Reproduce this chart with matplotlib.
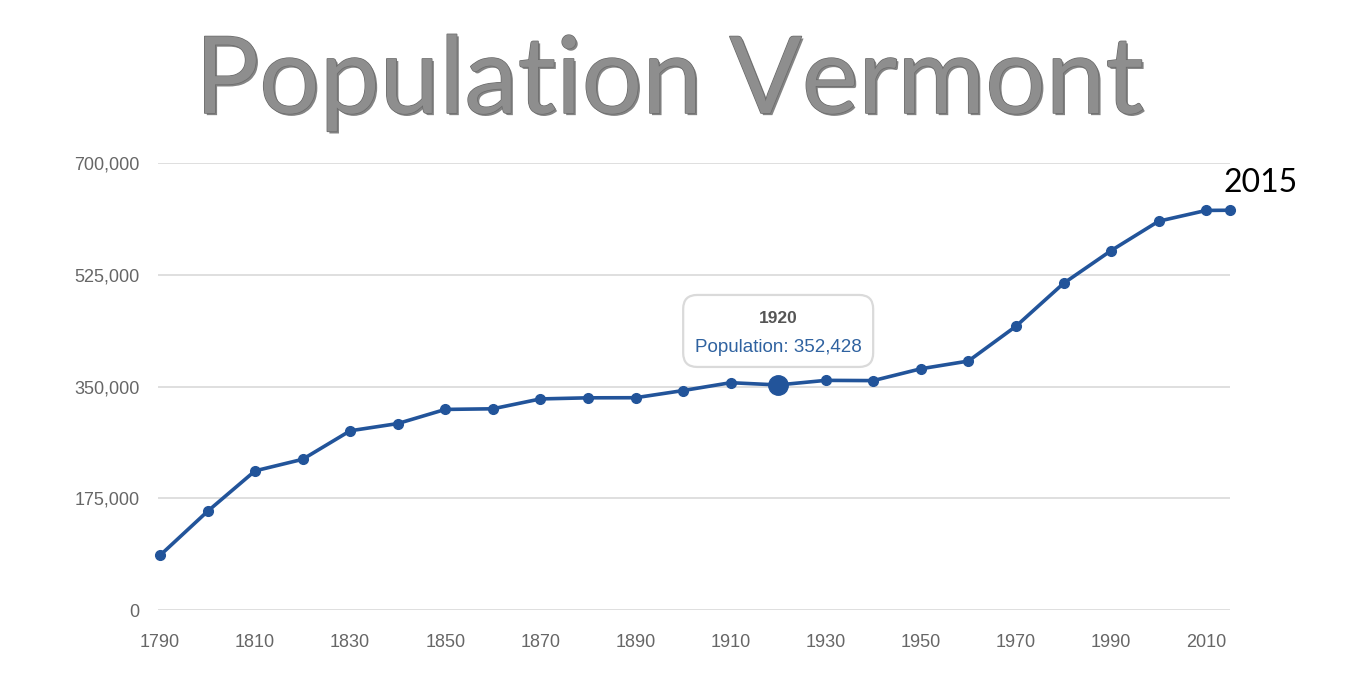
import matplotlib
matplotlib.use("Agg")
import matplotlib.pyplot as plt
import matplotlib.patheffects as pe
from matplotlib.patches import FancyBboxPatch
from matplotlib.transforms import ScaledTranslation
from matplotlib.ticker import FuncFormatter

# census population of Vermont
years = [1790, 1800, 1810, 1820, 1830, 1840, 1850, 1860, 1870, 1880, 1890, 1900,
         1910, 1920, 1930, 1940, 1950, 1960, 1970, 1980, 1990, 2000, 2010, 2015]
population = [85425, 154465, 217895, 235981, 280652, 291948, 314120, 315098,
              330551, 332286, 332422, 343641, 355956, 352428, 359611, 359231,
              377747, 389881, 444330, 511456, 562758, 608827, 625741, 626042]
y_ticks = [0, 175000, 350000, 525000, 700000]
x_ticks = list(range(1790, 2011, 20))
highlight_year = 1920
highlight_value = population[years.index(highlight_year)]

LINE = "#22549a"
TICK = "#666666"

fig = plt.figure(figsize=(13.66, 6.73), dpi=100)
ax = fig.add_axes([0.1157, 0.0936, 0.7847, 0.6642])

ax.plot(years, population, color=LINE, lw=2.6, marker="o", ms=7,
        clip_on=False, zorder=3)
ax.plot([highlight_year], [highlight_value], "o", color=LINE, ms=14,
        clip_on=False, zorder=4)

ax.set_xlim(1789.6, 2015)
ax.set_ylim(0, 700000)
ax.set_yticks(y_ticks)
ax.set_xticks(x_ticks)
ax.yaxis.set_major_formatter(FuncFormatter(lambda v, _: f"{int(v):,}"))
ax.grid(axis="y", color="#dcdcdc", lw=1.3)
ax.set_axisbelow(True)
for s in ax.spines.values():
    s.set_visible(False)
ax.tick_params(length=0, colors=TICK, labelsize=13)
ax.tick_params(axis="y", pad=13.5)
ax.tick_params(axis="x", pad=17)
for lab in ax.get_xticklabels() + ax.get_yticklabels():
    lab.set_fontfamily("Liberation Sans")

# tooltip box, placed in inches relative to the highlighted point
anchor = fig.dpi_scale_trans + ScaledTranslation(highlight_year, highlight_value,
                                                 ax.transData)
box = FancyBboxPatch((-0.89, 0.24), 1.78, 0.60,
                     boxstyle="round,pad=0.06,rounding_size=0.14",
                     transform=anchor, fc="white", ec="#dadada", lw=1.6,
                     zorder=5, clip_on=False)
ax.add_patch(box)
ax.annotate(f"{highlight_year}", (highlight_year, highlight_value),
            xytext=(0, 48), textcoords="offset points", ha="center",
            va="center", fontsize=12.5, fontweight="bold", color="#555555",
            family="Liberation Sans", zorder=6)
ax.annotate(f"Population: {highlight_value:,}", (highlight_year, highlight_value),
            xytext=(0, 27), textcoords="offset points", ha="center",
            va="center", fontsize=13.5, color="#2f62a0",
            family="Liberation Sans", zorder=6)

# end label
ax.annotate(f"{years[-1]}", (years[-1], population[-1]), xytext=(22, 9),
            textcoords="offset points", ha="center", va="bottom",
            fontsize=23, color="black", family="Lato", annotation_clip=False)

fig.text(0.49, 0.832, "Population Vermont", ha="center", va="baseline",
         fontsize=77, color="#8e8e8e", family="Lato",
         path_effects=[pe.withSimplePatchShadow(offset=(1.5, -1.5),
                                                shadow_rgbFace="#505050",
                                                alpha=0.7),
                       pe.withStroke(linewidth=1.0, foreground="#6a6a6a")])

fig.savefig("out.png", dpi=100)
